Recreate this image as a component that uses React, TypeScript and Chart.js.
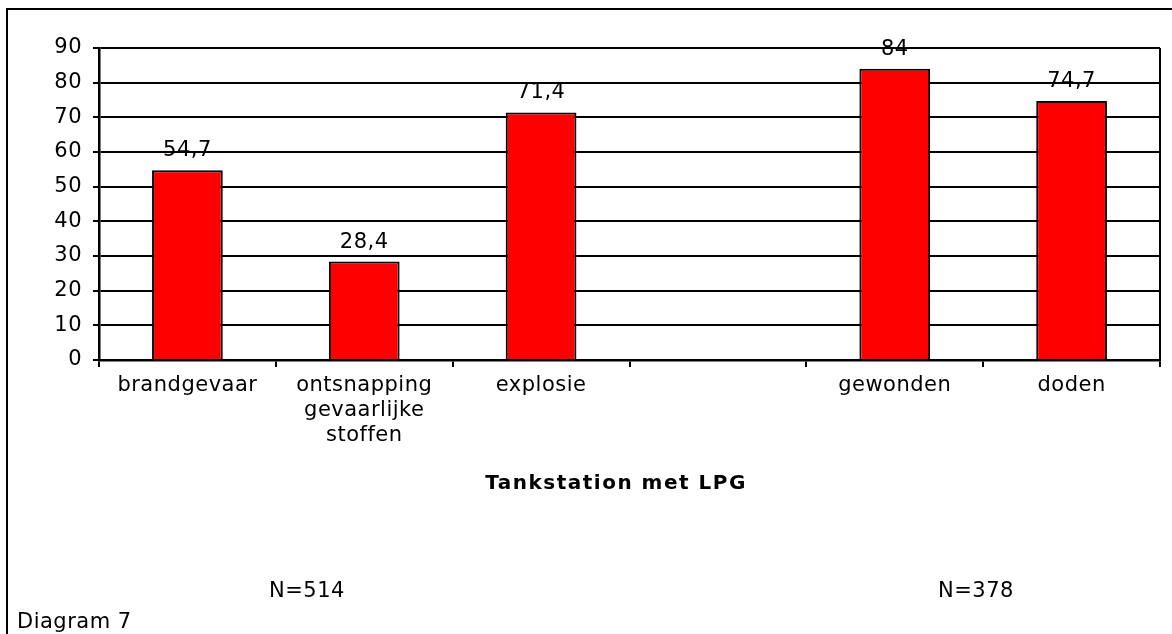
import React, { useEffect, useRef } from "react";
import { Chart, registerables } from "chart.js";

Chart.register(...registerables);

const categories: (string | string[])[] = [
  "brandgevaar",
  ["ontsnapping", "gevaarlijke", "stoffen"],
  "explosie",
  "",
  "gewonden",
  "doden",
];
const values: (number | null)[] = [54.7, 28.4, 71.4, null, 84, 74.7];
const axisTitle = "Tankstation met LPG";
const sampleNotes = [
  { text: "N=514", x: 307 },
  { text: "N=378", x: 976 },
];
const caption = "Diagram 7";

const FONT = "'DejaVu Sans', Verdana, sans-serif";
const SIZE = 21;
const SPACING = "0.5px";

export default function App() {
  const ref = useRef<HTMLCanvasElement | null>(null);

  useEffect(() => {
    if (!ref.current) return;

    const spacingPlugin = {
      id: "spacing",
      beforeUpdate(chart: any) {
        chart.ctx.letterSpacing = SPACING;
      },
      beforeDraw(chart: any) {
        chart.ctx.letterSpacing = SPACING;
      },
    };

    const decoPlugin = {
      id: "deco",
      afterDraw(chart: any) {
        const ctx = chart.ctx as CanvasRenderingContext2D;
        const area = chart.chartArea;
        ctx.save();
        // right edge of plot
        ctx.strokeStyle = "#000";
        ctx.lineWidth = 2;
        ctx.beginPath();
        ctx.moveTo(area.right, area.top);
        ctx.lineTo(area.right, area.bottom);
        ctx.stroke();

        // outer frame (left and top)
        ctx.lineWidth = 2;
        ctx.beginPath();
        ctx.moveTo(7, chart.height);
        ctx.lineTo(7, 9);
        ctx.lineTo(chart.width, 9);
        ctx.stroke();

        // data labels
        const meta = chart.getDatasetMeta(0);
        ctx.fillStyle = "#000";
        ctx.font = `${SIZE}px ${FONT}`;
        (ctx as any).letterSpacing = SPACING;
        ctx.textAlign = "center";
        ctx.textBaseline = "alphabetic";
        meta.data.forEach((bar: any, i: number) => {
          const v = values[i];
          if (v === null || v === undefined) return;
          const txt = String(v).replace(".", ",");
          ctx.fillText(txt, bar.x, bar.y - 14);
        });

        // axis title
        ctx.font = `bold 20px ${FONT}`;
        (ctx as any).letterSpacing = "1.5px";
        ctx.textBaseline = "middle";
        ctx.fillText(axisTitle, 616, 484);

        // sample notes
        ctx.font = `${SIZE}px ${FONT}`;
        (ctx as any).letterSpacing = SPACING;
        sampleNotes.forEach((n) => ctx.fillText(n.text, n.x, 592));

        // caption
        ctx.textAlign = "left";
        ctx.fillText(caption, 17, 623);
        ctx.restore();
      },
    };

    const chart = new Chart(ref.current, {
      type: "bar",
      data: {
        labels: categories as any,
        datasets: [
          {
            data: values,
            backgroundColor: "#FF0000",
            borderColor: "#000000",
            borderWidth: 2,
            categoryPercentage: 0.4,
            barPercentage: 1,
          },
        ],
      },
      options: {
        responsive: false,
        animation: false,
        devicePixelRatio: 1,
        layout: { padding: { left: 0, top: 48, right: 12, bottom: 0 } },
        plugins: {
          legend: { display: false },
          tooltip: { enabled: false },
          title: { display: false },
        },
        scales: {
          y: {
            min: 0,
            max: 90,
            ticks: {
              stepSize: 10,
              color: "#000",
              padding: 11,
              font: { family: FONT, size: SIZE },
            },
            grid: { color: "#000", lineWidth: 2, tickLength: 6 },
            border: { color: "#000", width: 2.5 },
            afterFit: (s: any) => {
              s.width = 99;
            },
          },
          x: {
            ticks: {
              color: "#000",
              padding: 6,
              maxRotation: 0,
              autoSkip: false,
              font: { family: FONT, size: SIZE, lineHeight: 1.2 },
            },
            grid: {
              offset: true,
              drawOnChartArea: false,
              color: "#000",
              lineWidth: 2,
              tickLength: 7,
            },
            border: { color: "#000", width: 2.5 },
            afterFit: (s: any) => {
              s.height = 634 - 360;
            },
          },
        },
      },
      plugins: [spacingPlugin, decoPlugin],
    });

    return () => chart.destroy();
  }, []);

  return (
    <div style={{ position: "fixed", left: 0, top: 0, width: 1172, height: 634, background: "#fff" }}>
      <canvas ref={ref} width={1172} height={634} style={{ display: "block", width: 1172, height: 634 }} />
    </div>
  );
}
